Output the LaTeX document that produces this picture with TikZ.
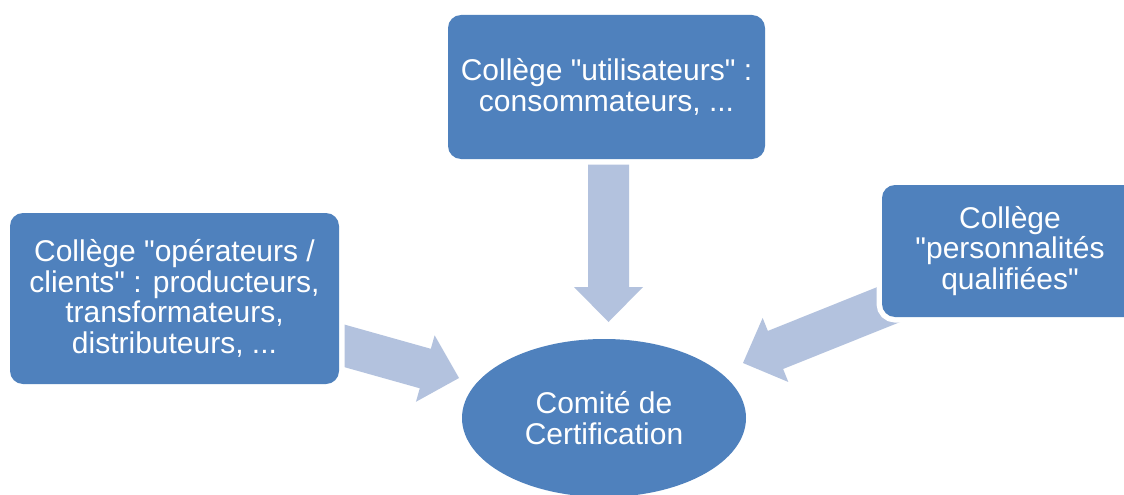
\documentclass[tikz,border=0pt]{standalone}
\usepackage{fontspec}
\setmainfont{Liberation Sans}[Ligatures=TeXOff]
\usetikzlibrary{shapes.geometric,calc}
\definecolor{boxblue}{HTML}{4F81BD}
\definecolor{arrowc}{HTML}{B3C2DE}
\tikzset{
  colbox/.style={rectangle, rounded corners=13pt, fill=boxblue, text=white,
    align=center, inner sep=0pt, font=\fontsize{30}{30.5}\selectfont,
    preaction={draw=white, line width=11pt}},
  comite/.style={ellipse, fill=boxblue, text=white, align=center, inner sep=0pt,
    font=\fontsize{30}{30.5}\selectfont, minimum width=284pt, minimum height=158pt},
  blockarrow/.style={fill=arrowc}
}
\newcommand\blkarrow[2]{%
  \coordinate (#1b) at ($(#2)!35pt!(#1)$);
  \fill[blockarrow] ($(#1)!20.5pt!90:(#2)$) -- ($(#1b)!20.5pt!90:(#2)$)
    -- ($(#1b)!34.5pt!90:(#2)$) -- (#2) -- ($(#1b)!34.5pt!-90:(#2)$)
    -- ($(#1b)!20.5pt!-90:(#2)$) -- ($(#1)!20.5pt!-90:(#2)$) -- cycle;}
\begin{document}
\begin{tikzpicture}[x=1pt,y=-1pt]
\useasboundingbox (0,0) rectangle (1124,495);
\clip (0,0) rectangle (1124,495);
\fill[white] (0,0) rectangle (1124,495);
% arrow end points
\coordinate (ts) at (608.5,162);
\coordinate (te) at (608.5,322);
\coordinate (ls) at (320,339);
\coordinate (le) at (459,378);
\coordinate (rs) at (900,300);
\coordinate (re) at (743,363);
\node[comite] (comite) at (604,418) {Comité de\\Certification};
\blkarrow{ts}{te}
\blkarrow{ls}{le}
\blkarrow{rs}{re}
\node[colbox, minimum width=317pt, minimum height=144pt] (util) at (606.5,87)
  {Collège "utilisateurs" :\\consommateurs, ...};
\node[colbox, minimum width=329pt, minimum height=171pt] (oper) at (174.5,298.5)
  {Collège "opérateurs /\\clients" : producteurs,\\transformateurs,\\distributeurs, ...};
\node[colbox, minimum width=256pt, minimum height=132pt] (perso) at (1010,251)
  {Collège\\"personnalités\\qualifiées"};
\end{tikzpicture}
\end{document}
